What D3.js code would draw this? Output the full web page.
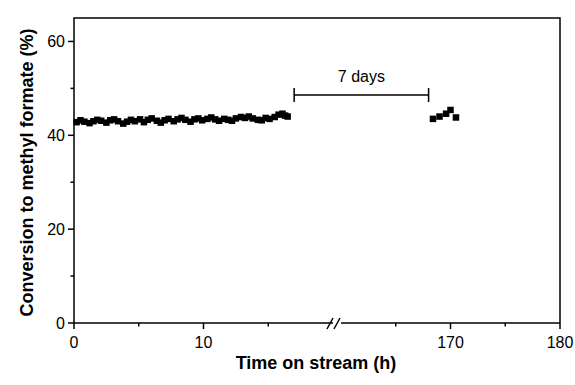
<!DOCTYPE html>
<html>
<head>
<meta charset="utf-8">
<script src="https://cdn.jsdelivr.net/npm/d3@7"></script>
<style>
body { margin: 0; background: #fff; }
text { font-family: "Liberation Sans", Arial, sans-serif; fill: #000; }
</style>
</head>
<body>
<svg width="575" height="385"></svg>
<script>
// data
var timeA = [0.2,0.5,0.8,1.2,1.5,1.8,2.1,2.5,2.8,3.1,3.4,3.8,4.1,4.4,4.7,5.1,5.4,5.7,6.0,6.4,
  6.7,7.0,7.3,7.7,8.0,8.3,8.6,9.0,9.3,9.6,9.9,10.3,10.6,10.9,11.2,11.6,11.9,12.2,12.5,12.9,
  13.2,13.5,13.8,14.2,14.5,14.8,15.1,15.5,15.8,16.1,16.3,16.5];
var convA = [42.8,43.2,42.9,42.6,43.0,43.3,43.1,42.7,43.2,43.4,43.0,42.5,42.9,43.3,43.0,43.4,42.8,43.3,43.6,43.1,
  42.7,43.2,43.5,43.0,43.4,43.7,43.3,42.9,43.4,43.6,43.2,43.5,43.8,43.4,43.1,43.5,43.3,43.1,43.6,43.9,
  43.7,44.0,43.6,43.3,43.2,43.7,43.5,43.9,44.4,44.6,44.2,44.0];
var timeB = [168.4, 169.0, 169.6, 170.0, 170.5];
var convB = [43.5, 44.0, 44.6, 45.4, 43.8];
var yTicks = [0, 20, 40, 60];
var yMinor = [10, 30, 50];
var xTicksA = [0, 10], xMinorA = [5, 15];
var xTicksB = [170, 180], xMinorB = [165, 175];
var gapLabel = "7 days", gapFrom = 17, gapTo = 168;

var svg = d3.select("svg");
var pTop = 18, pBottom = 323, pLeft = 74, pRight = 560;

var y = d3.scaleLinear().domain([0, 65]).range([pBottom, pTop]);
var xA = d3.scaleLinear().domain([0, 20]).range([pLeft, 333]);
var xB = d3.scaleLinear().domain([160, 180]).range([341, pRight]);

// frame: left, top, right
svg.append("path")
    .attr("d", "M" + pLeft + "," + pBottom + "V" + pTop + "H" + pRight + "V" + pBottom)
    .attr("fill", "none").attr("stroke", "#000").attr("stroke-width", 1.5);

// bottom axis segments
svg.append("line").attr("x1", pLeft).attr("x2", 333).attr("y1", pBottom).attr("y2", pBottom)
    .attr("stroke", "#000").attr("stroke-width", 1.5);
svg.append("line").attr("x1", 341).attr("x2", pRight).attr("y1", pBottom).attr("y2", pBottom)
    .attr("stroke", "#000").attr("stroke-width", 1.5);
// break marks
[330, 337].forEach(function(bx) {
  svg.append("line").attr("x1", bx - 3).attr("y1", pBottom + 6).attr("x2", bx + 3).attr("y2", pBottom - 5)
      .attr("stroke", "#000").attr("stroke-width", 1.5);
});

// y ticks
var yAxis = svg.append("g");
yAxis.selectAll(".maj").data(yTicks).enter().append("line")
    .attr("x1", pLeft - 6).attr("x2", pLeft).attr("y1", d => y(d)).attr("y2", d => y(d))
    .attr("stroke", "#000").attr("stroke-width", 1.5);
yAxis.selectAll(".min").data(yMinor).enter().append("line")
    .attr("x1", pLeft - 3.5).attr("x2", pLeft).attr("y1", d => y(d)).attr("y2", d => y(d))
    .attr("stroke", "#000").attr("stroke-width", 1.5);
yAxis.selectAll("text").data(yTicks).enter().append("text")
    .attr("x", pLeft - 9).attr("y", d => y(d) + 6)
    .attr("text-anchor", "end").attr("font-size", 16).text(d => d);

// x ticks
function xTicks(scale, major, minor) {
  var g = svg.append("g");
  g.selectAll(".maj").data(major).enter().append("line")
      .attr("x1", d => scale(d)).attr("x2", d => scale(d)).attr("y1", pBottom).attr("y2", pBottom + 6)
      .attr("stroke", "#000").attr("stroke-width", 1.5);
  g.selectAll(".min").data(minor).enter().append("line")
      .attr("x1", d => scale(d)).attr("x2", d => scale(d)).attr("y1", pBottom).attr("y2", pBottom + 3.5)
      .attr("stroke", "#000").attr("stroke-width", 1.5);
  g.selectAll("text").data(major).enter().append("text")
      .attr("x", d => scale(d)).attr("y", pBottom + 25)
      .attr("text-anchor", "middle").attr("font-size", 16).text(d => d);
}
xTicks(xA, xTicksA, xMinorA);
xTicks(xB, xTicksB, xMinorB);

// markers
var s = 6.5;
svg.append("g").selectAll("rect").data(timeA.map((t, i) => [t, convA[i]])).enter().append("rect")
    .attr("x", d => xA(d[0]) - s / 2).attr("y", d => y(d[1]) - s / 2)
    .attr("width", s).attr("height", s).attr("fill", "#000");
svg.append("g").selectAll("rect").data(timeB.map((t, i) => [t, convB[i]])).enter().append("rect")
    .attr("x", d => xB(d[0]) - s / 2).attr("y", d => y(d[1]) - s / 2)
    .attr("width", s).attr("height", s).attr("fill", "#000");

// 7 days bracket
var bx1 = xA(gapFrom), bx2 = xB(gapTo), by = 95;
svg.append("path")
    .attr("d", "M" + bx1 + "," + (by - 7) + "V" + (by + 7) + "M" + bx1 + "," + by + "H" + bx2 +
        "M" + bx2 + "," + (by - 7) + "V" + (by + 7))
    .attr("fill", "none").attr("stroke", "#000").attr("stroke-width", 1.5);
svg.append("text").attr("x", (bx1 + bx2) / 2).attr("y", by - 13)
    .attr("text-anchor", "middle").attr("font-size", 16).text(gapLabel);

// axis titles
svg.append("text").attr("x", 316).attr("y", 369).attr("text-anchor", "middle")
    .attr("font-size", 18).attr("font-weight", "bold").text("Time on stream (h)");
svg.append("text").attr("transform", "translate(33," + ((pTop + pBottom) / 2 + 2) + ") rotate(-90)")
    .attr("text-anchor", "middle").attr("font-size", 18).attr("font-weight", "bold")
    .text("Conversion to methyl formate (%)");
</script>
</body>
</html>
